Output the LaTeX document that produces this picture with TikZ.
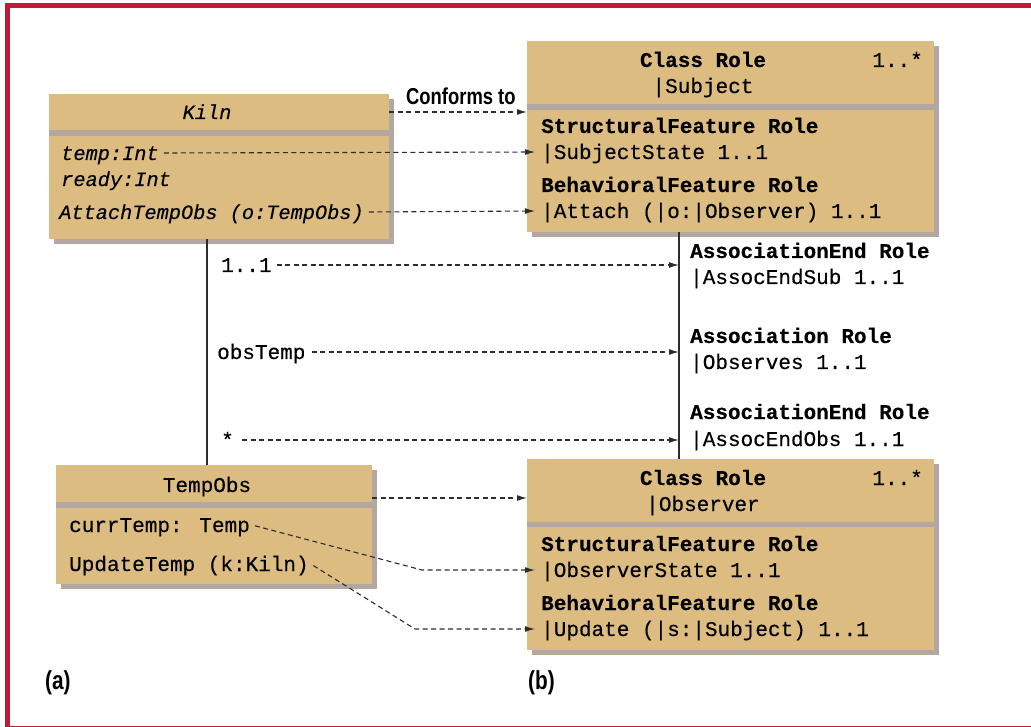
\documentclass[tikz,border=0pt]{standalone}
\usepackage{fontspec}
\setmonofont{Liberation Mono}
\newfontfamily\monoreg[FakeBold=0.35]{Liberation Mono}
\newfontfamily\monoheavy[FakeBold=0.3]{Liberation Mono}
\newfontfamily\labelfont[FakeStretch=0.8]{Liberation Sans}
\usetikzlibrary{calc,shadows,arrows.meta}

\definecolor{boxtan}{RGB}{220,188,128}
\definecolor{boxshade}{RGB}{178,167,161}
\definecolor{framered}{RGB}{190,28,56}
\definecolor{lineink}{RGB}{45,45,45}

\tikzset{
  classbox/.style={rectangle, fill=boxtan, inner sep=0pt, anchor=north west,
    drop shadow={shadow xshift=5pt, shadow yshift=-5pt, fill=boxshade, opacity=1}},
  txt/.style={inner sep=2pt, anchor=base west, text height=14pt, text depth=0pt,
    font=\monoreg\fontsize{21}{24}\selectfont},
  itxt/.style={txt, font=\monoreg\itshape\fontsize{20.3}{24}\selectfont},
  btxt/.style={txt, font=\monoheavy\bfseries\fontsize{21}{24}\selectfont},
  ctxt/.style={txt, anchor=base},
  cbtxt/.style={btxt, anchor=base},
  ertxt/.style={txt, anchor=base east},
  dep/.style={draw=lineink, line width=1.1pt, dash pattern=on 5pt off 3.5pt,
    -{Latex[length=10pt,width=6pt]}},
  assoc/.style={draw=lineink, line width=1.1pt},
  panel/.style={inner sep=0pt, anchor=base west,
    font=\labelfont\bfseries\fontsize{23}{26}\selectfont},
  caption/.style={panel, font=\labelfont\bfseries\fontsize{26}{28}\selectfont}
}

\begin{document}
\begin{tikzpicture}[x=1pt,y=-1pt]
\useasboundingbox (0,0) rectangle (1031,727);

% outer frame, open towards the right edge
\draw[framered, line width=5pt] (1040,5.5) -- (7.5,5.5) -- (7.5,728) -- (1040,728);

% ---- class boxes -------------------------------------------------------
\node[classbox, minimum width=340pt, minimum height=145pt] (kiln) at (49,94) {};
\fill[boxshade] (49,130) rectangle (389,136);

\node[classbox, minimum width=316pt, minimum height=119pt] (tobs) at (56,465) {};
\fill[boxshade] (56,502) rectangle (372,508);

\node[classbox, minimum width=407pt, minimum height=191pt] (subj) at (527,41) {};
\fill[boxshade] (527,104) rectangle (934,110);

\node[classbox, minimum width=407pt, minimum height=191pt] (obs) at (527,459) {};
\fill[boxshade] (527,522) rectangle (934,527);

% ---- Kiln ------------------------------------------------------------
\node[itxt, anchor=base] (kilnTitle) at (207,119) {Kiln};
\node[itxt] (kTemp)   at (59,160) {temp:Int};
\node[itxt] (kReady)  at (59,186) {ready:Int};
\node[itxt] (kAttach) at (57,219) {AttachTempObs (o:TempObs)};

% ---- TempObs ----------------------------------------------------------
\node[ctxt] (tobsTitle) at (207,492) {TempObs};
\node[txt] (tCurr)   at (67,532) {currTemp: Temp};
\node[txt] (tUpdate) at (67,571) {UpdateTemp (k:Kiln)};

% ---- Class Role |Subject -----------------------------------------------
\node[cbtxt] (sTitle) at (703,67) {Class Role};
\node[ertxt] (sMult)  at (925,67) {1..*};
\node[ctxt]  (sName)  at (703,93) {|Subject};
\node[btxt]  (sSF)    at (539,133) {StructuralFeature Role};
\node[txt]   (sState) at (539,159) {|SubjectState 1..1};
\node[btxt]  (sBF)    at (539,192) {BehavioralFeature Role};
\node[txt]   (sAttach) at (539,218) {|Attach (|o:|Observer) 1..1};

% ---- Class Role |Observer ----------------------------------------------
\node[cbtxt] (oTitle) at (703,485) {Class Role};
\node[ertxt] (oMult)  at (925,485) {1..*};
\node[ctxt]  (oName)  at (703,511) {|Observer};
\node[btxt]  (oSF)    at (539,551) {StructuralFeature Role};
\node[txt]   (oState) at (539,577) {|ObserverState 1..1};
\node[btxt]  (oBF)    at (539,610) {BehavioralFeature Role};
\node[txt]   (oUpdate) at (539,636) {|Update (|s:|Subject) 1..1};

% ---- association labels ------------------------------------------------
\node[txt] (endSubL) at (219,272) {1..1};
\node[txt] (assocL)  at (215,359) {obsTemp};
\node[txt] (endObsL) at (219,447) {*};

\node[btxt] (aeSub)   at (688,258) {AssociationEnd Role};
\node[txt]  (aeSubN)  at (688,284) {|AssocEndSub 1..1};
\node[btxt] (asRole)  at (688,343) {Association Role};
\node[txt]  (asRoleN) at (688,369) {|Observes 1..1};
\node[btxt] (aeObs)   at (688,419) {AssociationEnd Role};
\node[txt]  (aeObsN)  at (688,446) {|AssocEndObs 1..1};

\coordinate (rline) at (679,0);
\coordinate (bendA) at (422,0);
\coordinate (bendB) at (415,0);
\coordinate (tobsPort) at ($(tobs.north east)+(0,33)$);

% ---- panel captions ----------------------------------------------------
\node[panel] (confLbl) at (406,105) {Conforms to};
\node[caption] (capA) at (45,689) {(a)};
\node[caption] (capB) at (528,689) {(b)};

% ---- association lines -------------------------------------------------
\draw[assoc] (kiln.south -| kilnTitle.center) -- (tobs.north -| kilnTitle.center);
\draw[assoc] (subj.south -| rline) -- (obs.north -| rline);

% ---- conformance dependencies -------------------------------------------
\draw[dep] (kilnTitle.center -| kiln.east) -- (kilnTitle.center -| subj.west);
\draw[dep, shorten <=3pt, shorten >=4pt] (kTemp.east) -- (sState.west);
\draw[dep, shorten <=3pt, shorten >=4pt] (kAttach.east) -- (sAttach.west);

\draw[dep, shorten <=3pt] (endSubL.east) -- (endSubL.east -| rline);
\draw[dep, shorten <=4pt] (assocL.east) -- (assocL.east -| rline);
\draw[dep, shorten <=6pt] (endObsL.east) -- (endObsL.east -| rline);

\draw[dep] (tobsPort) -- (tobsPort -| obs.west);
\draw[dep, shorten <=3pt, shorten >=4pt] (tCurr.east) -- (bendA |- oState.west) -- (oState.west);
\draw[dep, shorten <=3pt, shorten >=4pt] (tUpdate.east) -- (bendB |- oUpdate.west) -- (oUpdate.west);
\end{tikzpicture}
\end{document}
